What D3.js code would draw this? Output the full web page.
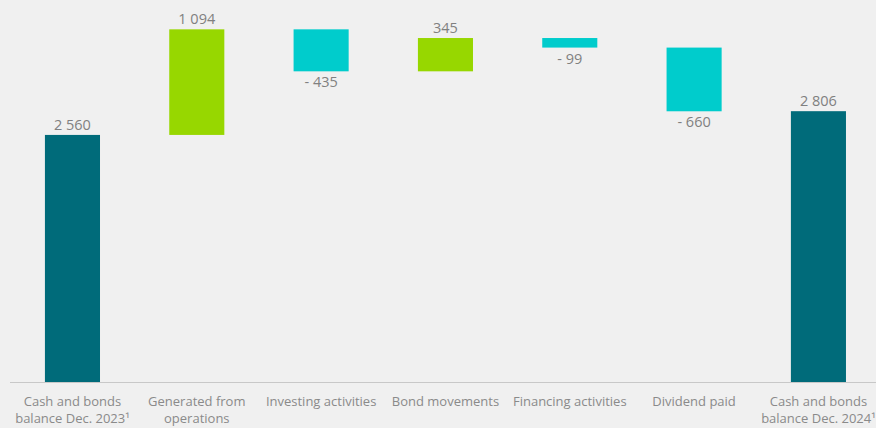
<!DOCTYPE html>
<html>
<head>
<meta charset="utf-8">
<script src="https://cdn.jsdelivr.net/npm/d3@7"></script>
<style>
  body { margin: 0; background: #f0f0f0; }
  svg { display: block; font-family: "Open Sans", sans-serif; }
</style>
</head>
<body>
<div id="chart"></div>
<script>
const categories = [
  ["Cash and bonds", "balance Dec. 2023¹"],
  ["Generated from", "operations"],
  ["Investing activities"],
  ["Bond movements"],
  ["Financing activities"],
  ["Dividend paid"],
  ["Cash and bonds", "balance Dec. 2024¹"]
];
const values = [2560, 1094, -435, 345, -99, -660, 2806];
const kinds = ["total", "step", "step", "step", "step", "step", "total"];
const valueLabels = ["2 560", "1 094", "- 435", "345", "- 99", "- 660", "2 806"];

const width = 876, height = 428;
const colors = { total: "#006b7a", up: "#97d700", down: "#00cccc" };

// running totals for the floating bars
let running = 0;
const bars = values.map((v, i) => {
  let y0, y1, kind;
  if (kinds[i] === "total") {
    y0 = 0; y1 = v; running = v; kind = "total";
  } else {
    y0 = running; y1 = running + v; running = y1; kind = v >= 0 ? "up" : "down";
  }
  return { i, v, lo: Math.min(y0, y1), hi: Math.max(y0, y1), kind, label: valueLabels[i] };
});

const svg = d3.select("#chart").append("svg")
  .attr("width", width)
  .attr("height", height);

svg.append("rect").attr("width", width).attr("height", height).attr("fill", "#f0f0f0");

const x = d3.scaleBand()
  .domain(d3.range(categories.length))
  .range([10.3, 880.6])
  .paddingInner(0.557)
  .paddingOuter(0.2785);

const y = d3.scaleLinear()
  .domain([0, 3958])
  .range([382, 0]);

svg.append("g").selectAll("rect")
  .data(bars)
  .join("rect")
  .attr("x", d => x(d.i))
  .attr("width", x.bandwidth())
  .attr("y", d => y(d.hi))
  .attr("height", d => y(d.lo) - y(d.hi))
  .attr("fill", d => colors[d.kind]);

// baseline axis
const axis = svg.append("g")
  .attr("transform", `translate(0,${y(0)})`)
  .call(d3.axisBottom(x).tickSize(0).tickFormat(""));
axis.select(".domain").attr("stroke", "#c8c8c8").attr("d", `M10,0.5H${width}`);

// value labels
svg.append("g").selectAll("text")
  .data(bars)
  .join("text")
  .attr("x", d => x(d.i) + x.bandwidth() / 2)
  .attr("y", d => d.kind === "down" ? y(d.lo) + 16 : y(d.hi) - 5)
  .attr("text-anchor", "middle")
  .attr("fill", "#808080")
  .attr("font-size", 14.5)
  .text(d => d.label);

// category labels
const cat = svg.append("g").selectAll("text")
  .data(categories)
  .join("text")
  .attr("x", (d, i) => x(i) + x.bandwidth() / 2)
  .attr("y", 406)
  .attr("text-anchor", "middle")
  .attr("fill", "#8a8a8a")
  .attr("font-size", 13);
cat.selectAll("tspan")
  .data(d => d)
  .join("tspan")
  .attr("x", function() { return this.parentNode.getAttribute("x"); })
  .attr("dy", (d, j) => j === 0 ? 0 : 17)
  .text(d => d);
</script>
</body>
</html>
